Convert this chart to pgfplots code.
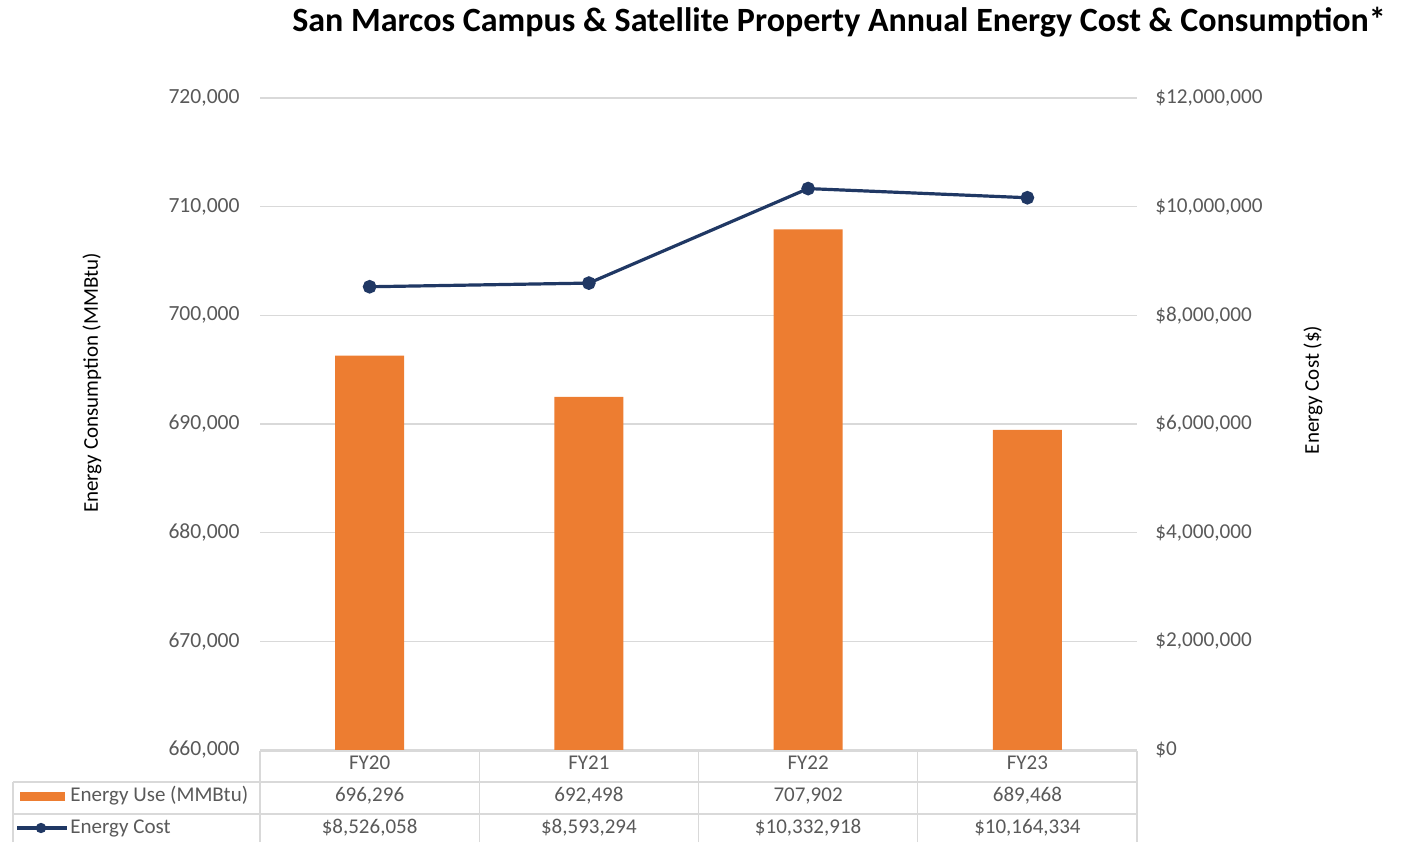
\documentclass[border=0pt]{standalone}
\usepackage{pgfplots}
\pgfplotsset{compat=1.18}
\usepackage{fontspec}
\setmainfont{Carlito}
\definecolor{barorange}{HTML}{ED7D31}
\definecolor{linenavy}{HTML}{203864}
\definecolor{gridgray}{HTML}{D9D9D9}
\definecolor{txtgray}{HTML}{595959}
\begin{document}
\begin{tikzpicture}[x=0.5pt,y=0.5pt]
\useasboundingbox (0,0) rectangle (1409,842);
\pgfplotsset{
  base/.style={
    at={(130pt,46pt)}, anchor=south west,
    width=438.5pt, height=326pt, scale only axis,
    xmin=-0.5, xmax=3.5, xtick=\empty,
    axis line style={draw=none},
    major tick length=0pt,
    scaled y ticks=false,
    /pgf/number format/assume math mode=true,
    /pgf/number format/.cd, fixed, 1000 sep={,}, precision=0,
  },
}
\begin{axis}[base,
  ymin=660000, ymax=720000, ytick distance=10000,
  ymajorgrids, grid style={gridgray, line width=0.6pt},
  yticklabel style={font=\fontsize{10.8}{12}\selectfont, text=txtgray, inner sep=0pt, anchor=east, xshift=-10pt},
]
\addplot[ybar, bar width=34.5pt, fill=barorange, draw=none, bar shift=0pt]
  coordinates {(0,696296) (1,692498) (2,707902) (3,689468)};
\end{axis}
\begin{axis}[base,
  ymin=0, ymax=12000000, ytick distance=2000000,
  axis y line*=right,
  yticklabel={\$\pgfmathprintnumber{\tick}},
  yticklabel style={font=\fontsize{10.6}{12}\selectfont, text=txtgray, inner sep=0pt, anchor=west, xshift=9pt},
]
\addplot[linenavy, line width=1.6pt, mark=*, mark size=2.6pt, mark options={fill=linenavy, draw=linenavy}]
  coordinates {(0,8526058) (1,8593294) (2,10332918) (3,10164334)};
\end{axis}
% title
\node[font=\fontsize{17}{20}\selectfont\bfseries, anchor=center] at (839,820) {San Marcos Campus \& Satellite Property Annual Energy Cost \& Consumption*};
% axis labels
\node[font=\fontsize{10.5}{12}\selectfont, text=black, rotate=90] at (92,459) {Energy Consumption (MMBtu)};
\node[font=\fontsize{10.5}{12}\selectfont, text=black, rotate=90] at (1313,452) {Energy Cost (\$)};
% data table
\begin{scope}[draw=gridgray, line width=0.6pt]
\draw (260,91) -- (1137,91);
\draw (13,60) -- (1137,60);
\draw (13,28) -- (1137,28);
\draw (13,0) -- (13,60);
\foreach \xx in {260,479.25,698.5,917.75,1137} \draw (\xx,0) -- (\xx,91);
\end{scope}
\begin{scope}[every node/.style={font=\fontsize{10.5}{12}\selectfont, text=txtgray}]
\node at (369.6,79) {FY20};
\node at (588.9,79) {FY21};
\node at (808.1,79) {FY22};
\node at (1027.4,79) {FY23};
\node at (369.6,46) {696,296};
\node at (588.9,46) {692,498};
\node at (808.1,46) {707,902};
\node at (1027.4,46) {689,468};
\node at (369.6,14) {\$8,526,058};
\node at (588.9,14) {\$8,593,294};
\node at (808.1,14) {\$10,332,918};
\node at (1027.4,14) {\$10,164,334};
\fill[barorange] (20,41) rectangle (65,50);
\node[anchor=west, inner sep=0pt] at (70,46) {Energy Use (MMBtu)};
\draw[linenavy, line width=1.6pt] (17,14) -- (67,14);
\fill[linenavy] (41,14) circle (2.6pt);
\node[anchor=west, inner sep=0pt] at (70,14) {Energy Cost};
\end{scope}
\end{tikzpicture}
\end{document}
